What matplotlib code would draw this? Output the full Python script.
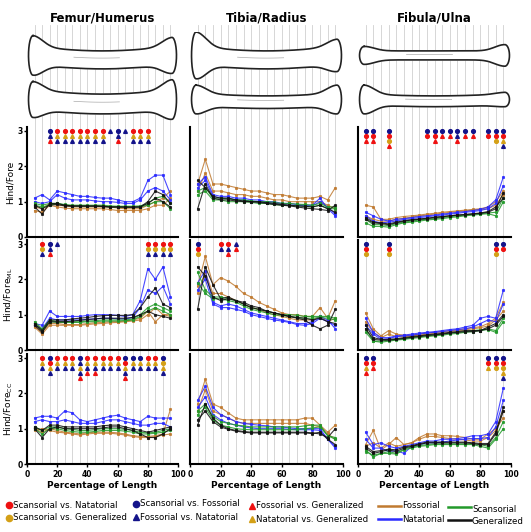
import matplotlib
matplotlib.use("Agg")
import matplotlib.pyplot as plt
import numpy as np

pct = [5,10,15,20,25,30,35,40,45,50,55,60,65,70,75,80,85,90,95]
groups = ["Fossorial", "Natatorial", "Scansorial", "Generalized"]
colors = {"Fossorial": "#C07A30", "Natatorial": "#2A2AFF", "Scansorial": "#22992A", "Generalized": "#111111"}
columns = ["Femur/Humerus", "Tibia/Radius", "Fibula/Ulna"]
row_labels = ["Hind/Fore", "Hind/Fore$_{\\mathrm{ML}}$", "Hind/Fore$_{\\mathrm{CC}}$"]

P1 = {
 "Fossorial": [[0.75,0.7,0.9,0.85,0.82,0.8,0.8,0.8,0.8,0.8,0.78,0.75,0.75,0.75,0.75,0.8,0.9,0.9,1.1],
               [0.85,0.8,0.95,0.9,0.88,0.85,0.85,0.85,0.85,0.85,0.85,0.82,0.8,0.8,0.8,0.9,1.0,1.1,1.3]],
 "Natatorial": [[1.1,1.2,1.05,1.3,1.25,1.2,1.15,1.15,1.12,1.1,1.1,1.05,1.0,1.0,1.1,1.6,1.75,1.75,1.2],
                [1.0,0.95,1.0,1.2,1.1,1.05,1.05,1.05,1.02,1.0,1.0,0.98,0.95,0.95,1.05,1.3,1.4,1.3,1.05]],
 "Scansorial": [[0.95,0.9,0.95,0.95,0.92,0.9,0.9,0.9,0.9,0.9,0.88,0.87,0.87,0.87,0.88,0.95,1.1,1.15,0.95],
                [0.9,0.85,0.9,0.95,0.9,0.88,0.88,0.88,0.88,0.88,0.85,0.85,0.85,0.85,0.85,0.9,1.0,1.0,0.8]],
 "Generalized": [[0.85,0.65,0.95,0.95,0.9,0.88,0.88,0.88,0.88,0.87,0.85,0.85,0.85,0.85,0.85,1.0,1.3,1.2,0.95],
                 [0.9,0.8,0.9,0.92,0.88,0.87,0.87,0.87,0.87,0.86,0.85,0.85,0.84,0.84,0.85,0.95,1.1,1.0,0.85]],
}
P2 = {
 "Fossorial": [[1.5,2.2,1.5,1.5,1.45,1.4,1.35,1.3,1.3,1.25,1.2,1.2,1.15,1.1,1.1,1.1,1.15,1.05,1.4],
               [1.3,1.8,1.3,1.3,1.25,1.2,1.2,1.15,1.15,1.1,1.05,1.05,1.0,1.0,1.0,1.0,1.0,0.9,0.8]],
 "Natatorial": [[1.5,1.7,1.2,1.15,1.15,1.1,1.1,1.05,1.05,1.0,1.0,0.95,0.95,0.92,0.9,0.9,1.1,0.8,0.6],
                [1.4,1.6,1.15,1.1,1.1,1.05,1.05,1.0,1.0,0.98,0.95,0.92,0.9,0.9,0.88,0.88,1.0,0.85,0.65]],
 "Scansorial": [[1.3,1.4,1.1,1.1,1.08,1.05,1.05,1.02,1.0,1.0,0.98,0.95,0.95,0.93,0.92,0.9,0.95,0.85,0.85],
                [1.2,1.3,1.05,1.05,1.0,1.0,1.0,0.98,0.95,0.95,0.92,0.9,0.9,0.88,0.87,0.85,0.9,0.8,0.8]],
 "Generalized": [[0.8,1.5,1.1,1.05,1.05,1.02,1.0,1.0,0.98,0.95,0.92,0.9,0.88,0.85,0.82,0.8,0.78,0.75,0.9],
                 [1.6,1.4,1.15,1.1,1.1,1.05,1.02,1.0,1.0,0.97,0.95,0.92,0.9,0.88,0.87,0.85,0.9,0.8,0.7]],
}
P3 = {
 "Fossorial": [[0.9,0.85,0.5,0.5,0.55,0.58,0.6,0.62,0.65,0.67,0.7,0.72,0.74,0.76,0.78,0.8,0.85,1.0,1.3],
               [0.6,0.5,0.45,0.45,0.5,0.53,0.56,0.6,0.62,0.65,0.67,0.7,0.72,0.74,0.76,0.78,0.8,0.9,1.2]],
 "Natatorial": [[0.7,0.6,0.5,0.45,0.5,0.52,0.55,0.58,0.6,0.62,0.65,0.67,0.7,0.72,0.75,0.78,0.85,1.05,1.7],
                [0.6,0.45,0.4,0.42,0.45,0.5,0.52,0.55,0.57,0.6,0.62,0.65,0.67,0.7,0.72,0.75,0.8,0.95,1.45]],
 "Scansorial": [[0.4,0.3,0.3,0.28,0.35,0.4,0.42,0.45,0.48,0.5,0.52,0.55,0.57,0.6,0.62,0.64,0.66,0.6,1.0],
                [0.5,0.35,0.35,0.32,0.38,0.42,0.45,0.48,0.5,0.52,0.55,0.57,0.6,0.62,0.64,0.66,0.68,0.7,1.1]],
 "Generalized": [[0.5,0.4,0.38,0.35,0.4,0.45,0.48,0.5,0.52,0.55,0.57,0.6,0.62,0.63,0.65,0.67,0.7,0.8,1.25],
                 [0.55,0.42,0.4,0.37,0.42,0.46,0.49,0.51,0.53,0.56,0.58,0.6,0.62,0.64,0.66,0.68,0.72,0.85,1.1]],
}
P4 = {
 "Fossorial": [[0.7,0.5,0.75,0.75,0.72,0.72,0.72,0.75,0.77,0.78,0.8,0.8,0.82,0.85,0.9,1.1,0.8,1.0,1.0],
               [0.65,0.45,0.7,0.7,0.7,0.7,0.7,0.72,0.74,0.75,0.77,0.78,0.8,0.82,0.85,1.0,1.2,1.0,0.95]],
 "Natatorial": [[0.75,0.7,1.1,0.95,0.95,0.95,0.95,0.98,1.0,1.0,1.0,0.98,0.95,1.0,1.4,2.3,2.0,2.35,1.5],
                [0.7,0.6,0.9,0.85,0.85,0.85,0.85,0.87,0.88,0.9,0.9,0.88,0.88,0.92,1.2,1.7,1.6,1.8,1.3]],
 "Scansorial": [[0.8,0.6,0.85,0.8,0.8,0.8,0.8,0.82,0.83,0.85,0.85,0.85,0.85,0.88,1.0,1.2,1.3,1.2,1.1],
                [0.75,0.55,0.8,0.78,0.78,0.78,0.78,0.8,0.8,0.82,0.82,0.82,0.83,0.85,0.95,1.1,1.2,1.1,1.0]],
 "Generalized": [[0.75,0.55,0.85,0.85,0.85,0.88,0.9,0.92,0.95,0.97,0.98,0.98,0.98,1.0,1.2,1.5,1.75,1.3,1.2],
                 [0.7,0.5,0.8,0.8,0.8,0.82,0.84,0.86,0.88,0.9,0.9,0.9,0.9,0.92,1.0,1.1,1.0,0.95,0.9]],
}
P5 = {
 "Fossorial": [[1.8,2.65,1.85,2.05,1.95,1.8,1.6,1.5,1.35,1.25,1.15,1.05,1.0,1.0,0.95,0.95,1.2,0.9,1.4],
               [1.6,2.2,1.6,1.6,1.5,1.4,1.3,1.2,1.15,1.05,1.0,0.95,0.9,0.85,0.85,0.85,0.95,0.8,0.9]],
 "Natatorial": [[1.9,2.25,1.35,1.25,1.3,1.25,1.15,1.05,1.0,0.95,0.9,0.85,0.8,0.75,0.75,0.8,0.95,0.85,0.6],
                [1.7,2.0,1.3,1.2,1.2,1.15,1.1,1.0,0.95,0.9,0.85,0.82,0.78,0.72,0.7,0.75,0.9,0.8,0.7]],
 "Scansorial": [[2.2,1.7,1.5,1.5,1.45,1.4,1.3,1.2,1.15,1.1,1.05,1.0,1.0,0.98,0.95,0.95,0.95,0.95,0.9],
                [1.9,1.6,1.45,1.45,1.4,1.35,1.25,1.15,1.1,1.05,1.0,0.98,0.95,0.92,0.9,0.9,0.92,0.9,0.85]],
 "Generalized": [[1.15,2.35,1.85,1.45,1.5,1.4,1.35,1.25,1.2,1.1,1.05,1.0,0.95,0.9,0.85,0.7,0.6,0.7,1.15],
                 [2.35,2.1,1.5,1.4,1.45,1.4,1.3,1.2,1.15,1.1,1.05,1.0,0.95,0.92,0.9,0.85,0.9,0.8,0.75]],
}
P6 = {
 "Fossorial": [[1.05,0.6,0.4,0.55,0.45,0.42,0.42,0.45,0.48,0.5,0.52,0.55,0.57,0.6,0.63,0.66,0.75,0.9,1.35],
               [0.8,0.5,0.35,0.45,0.38,0.38,0.4,0.42,0.45,0.47,0.5,0.52,0.55,0.57,0.6,0.63,0.68,0.85,1.1]],
 "Natatorial": [[0.9,0.5,0.35,0.35,0.4,0.42,0.45,0.48,0.5,0.52,0.55,0.58,0.6,0.65,0.7,0.9,0.95,0.9,1.7],
                [0.7,0.45,0.3,0.32,0.38,0.4,0.42,0.45,0.48,0.5,0.52,0.55,0.58,0.6,0.65,0.75,0.85,0.8,1.3]],
 "Scansorial": [[0.6,0.25,0.25,0.28,0.3,0.32,0.35,0.38,0.4,0.42,0.45,0.48,0.5,0.52,0.55,0.57,0.6,0.55,0.9],
                [0.5,0.25,0.22,0.25,0.28,0.3,0.33,0.35,0.38,0.4,0.42,0.45,0.47,0.5,0.52,0.55,0.58,0.5,0.8]],
 "Generalized": [[0.7,0.35,0.3,0.3,0.32,0.35,0.38,0.4,0.43,0.45,0.47,0.5,0.52,0.55,0.55,0.55,0.65,0.75,1.0],
                 [0.6,0.3,0.28,0.28,0.3,0.33,0.36,0.38,0.41,0.43,0.45,0.48,0.5,0.52,0.52,0.55,0.6,0.7,0.95]],
}
P7 = {
 "Fossorial": [[1.0,0.9,1.0,0.95,0.9,0.88,0.85,0.88,0.9,0.9,0.9,0.88,0.85,0.8,0.78,0.78,0.8,0.85,1.55],
               [0.95,1.0,0.95,0.9,0.88,0.85,0.82,0.85,0.87,0.87,0.87,0.85,0.82,0.78,0.75,0.75,0.77,0.82,0.85]],
 "Natatorial": [[1.3,1.35,1.35,1.3,1.5,1.45,1.25,1.2,1.25,1.3,1.35,1.38,1.3,1.25,1.2,1.35,1.3,1.3,1.3],
                [1.2,1.25,1.2,1.2,1.25,1.2,1.15,1.15,1.15,1.2,1.25,1.25,1.2,1.15,1.1,1.1,1.15,1.15,1.05]],
 "Scansorial": [[1.05,0.95,1.05,1.05,1.0,0.98,0.95,0.95,0.97,1.0,1.0,1.0,0.98,0.95,0.9,0.88,0.9,0.95,1.0],
                [1.0,0.85,1.0,1.0,0.95,0.92,0.9,0.9,0.92,0.95,0.95,0.95,0.93,0.9,0.85,0.85,0.87,0.9,0.95]],
 "Generalized": [[1.0,0.75,1.0,1.05,1.0,1.0,1.0,1.0,1.0,1.02,1.05,1.05,1.0,0.95,0.85,0.75,0.75,0.85,1.0],
                 [1.05,0.95,1.1,1.1,1.05,1.05,1.05,1.05,1.05,1.08,1.1,1.1,1.05,1.0,0.95,0.9,0.95,1.0,1.05]],
}
P8 = {
 "Fossorial": [[1.7,2.4,1.7,1.6,1.45,1.3,1.25,1.25,1.25,1.25,1.25,1.25,1.25,1.25,1.3,1.3,1.1,0.9,1.1],
               [1.5,2.1,1.5,1.4,1.3,1.2,1.15,1.15,1.15,1.15,1.15,1.15,1.15,1.15,1.15,1.1,1.05,0.85,0.7]],
 "Natatorial": [[1.8,2.2,1.6,1.4,1.3,1.2,1.15,1.12,1.1,1.08,1.05,1.05,1.02,1.0,1.0,1.0,1.0,0.7,0.45],
                [1.6,1.9,1.4,1.25,1.15,1.1,1.05,1.02,1.0,1.0,1.0,1.0,0.98,0.97,0.97,0.97,0.95,0.7,0.5]],
 "Scansorial": [[1.5,1.7,1.35,1.2,1.15,1.1,1.08,1.05,1.05,1.05,1.05,1.05,1.05,1.05,1.08,1.1,1.1,0.8,0.75],
                [1.4,1.6,1.25,1.1,1.05,1.0,0.98,0.97,0.97,0.97,0.97,0.97,0.97,0.97,1.0,1.02,1.05,0.8,0.7]],
 "Generalized": [[1.1,1.7,1.3,1.1,1.0,0.95,0.92,0.9,0.9,0.9,0.9,0.9,0.9,0.9,0.9,0.88,0.85,0.75,1.0],
                 [1.25,1.5,1.2,1.05,0.98,0.93,0.9,0.88,0.88,0.88,0.88,0.88,0.88,0.88,0.88,0.86,0.9,0.7,0.55]],
}
P9 = {
 "Fossorial": [[0.55,0.95,0.4,0.55,0.75,0.55,0.6,0.75,0.85,0.85,0.8,0.8,0.78,0.75,0.7,0.7,0.85,1.0,1.3],
               [0.5,0.6,0.45,0.6,0.5,0.55,0.6,0.7,0.78,0.78,0.75,0.72,0.7,0.68,0.65,0.65,0.75,0.95,1.5]],
 "Natatorial": [[0.9,0.55,0.6,0.5,0.45,0.5,0.55,0.6,0.65,0.65,0.7,0.7,0.72,0.75,0.8,0.8,0.85,1.2,2.15],
                [0.7,0.45,0.45,0.35,0.38,0.3,0.5,0.55,0.6,0.6,0.62,0.65,0.68,0.7,0.72,0.72,0.75,1.05,1.8]],
 "Scansorial": [[0.4,0.2,0.3,0.3,0.28,0.4,0.45,0.5,0.52,0.55,0.55,0.55,0.55,0.55,0.55,0.5,0.45,0.7,1.0],
                [0.35,0.25,0.3,0.35,0.3,0.42,0.48,0.52,0.55,0.57,0.57,0.57,0.57,0.57,0.57,0.55,0.5,0.75,1.2]],
 "Generalized": [[0.45,0.3,0.35,0.4,0.35,0.45,0.5,0.55,0.6,0.6,0.6,0.6,0.6,0.6,0.58,0.55,0.55,0.85,1.5],
                 [0.5,0.35,0.38,0.42,0.4,0.48,0.52,0.57,0.62,0.62,0.62,0.62,0.62,0.62,0.6,0.58,0.58,0.9,1.6]],
}
panels = [[P1, P2, P3], [P4, P5, P6], [P7, P8, P9]]

S1 = {15:["bc","bt","rt"],20:["rc","yt","bt"],25:["rc","yt","bt"],30:["rc","yt","bt"],35:["rc","yt","bt"],
      40:["rc","yt","bt"],45:["rc","yt","bt"],50:["rc","yt","bt"],55:["bt"],60:["bc","bt","rt"],65:["bt"],
      70:["rc","yt","bt"],75:["rc","yt","bt"],80:["rc","yt","bt"]}
S2 = {}
S3 = {5:["bc","rc","rt"],10:["bc","rc","rt"],20:["bc","rc","yc","rt"],45:["bc","rc"],50:["bc","rc","rt"],
      55:["bc","rt"],60:["bc","rt"],65:["bc","bt","rt"],70:["bc","rt"],75:["bc","rt"],85:["bc","rc"],
      90:["bc","rc","yc"],95:["bc","rc","yt","bt"]}
S4 = {10:["rc","yc","bt"],15:["bc","bt","rt"],20:["bt"],80:["rc","yc","bt"],85:["rc","yc","bt"],
      90:["rc","yc","bt"],95:["rc","yc","bt"]}
S5 = {5:["bc","rc","yc"],20:["rc","bt"],25:["rc","bt","rt"],30:["bt","rt"]}
S6 = {5:["bc","rc","yc"],20:["bc","rc","yc"],90:["bc","rc","yc"],95:["bc","rc"]}
S7 = {10:["rc","yt","bt"],15:["bc","rc","yt","bt"],20:["rc","yt","bt"],25:["rc","yt","bt"],30:["rc","yt","bt"],
      35:["bc","bt","yt","bt","rt"],40:["rc","yt","bt","rt"],45:["rc","yt","bt","rt"],50:["rc","yt","bt"],
      55:["rc","yt","bt"],60:["rc","yt","bt"],65:["bc","rc","yt","bt","rt"],70:["bc","yt","bt"],
      75:["bc","yt","bt"],80:["rc","yt","bt"],85:["rc","yt","bt"],90:["bc","yc","yt","bt"]}
S8 = {}
S9 = {5:["bc","rc","yt","rt"],10:["bc","rc","rt"],85:["bc","rc","yt"],90:["bc","rc","yc"],
      95:["bc","rc","yc","yt","bt"]}
sigs = [[S1, S2, S3], [S4, S5, S6], [S7, S8, S9]]

sym_color = {"r": "#EE1111", "y": "#D4A017", "b": "#13138A"}
sym_marker = {"c": "o", "t": "^"}

W, H = 531, 532
fig = plt.figure(figsize=(W/100, H/100), dpi=100)

def fa(x0, y0, x1, y1):
    return fig.add_axes([x0/W, 1 - y1/H, (x1-x0)/W, (y1-y0)/H])

col_x = [(27, 178), (190, 343), (358, 511)]
row_y = [(131, 237), (244, 350), (358, 464)]
ytop = 3.12

for (x0, x1) in col_x:
    bg = fa(x0, 25, x1, row_y[2][1])
    bg.set_xlim(0, 100); bg.set_ylim(0, 1)
    for p in pct:
        bg.axvline(p, color="#d0d0d0", lw=0.6, zorder=0)
    bg.axis("off")

# bone outline shapes: (shaft half-width, left knob, right knob, bow)
bone_shapes = [
    [(0.10, 0.22, 0.20, 0.05), (0.11, 0.20, 0.22, 0.05)],
    [(0.10, 0.26, 0.18, 0.05), (0.07, 0.16, 0.16, 0.03)],
    [(0.05, 0.10, 0.12, 0.0), (0.06, 0.16, 0.08, 0.02)],
]

def bone(ax, yc, shaft, kl, kr, bow):
    t = np.linspace(0, 1, 120)
    w = shaft + (kl - shaft)*np.exp(-(t/0.1)**2) + (kr - shaft)*np.exp(-((1-t)/0.1)**2)
    mid = yc - bow*np.sin(np.pi*t)
    xs = 4 + 92*t
    top = mid + w
    bot = mid - w
    a = np.linspace(-np.pi/2, np.pi/2, 30)
    rx = 3.0
    lx = xs[0] - rx*np.cos(a); ly = mid[0] + w[0]*np.sin(a)
    rxs = xs[-1] + rx*np.cos(a); rys = mid[-1] - w[-1]*np.sin(a)
    X = np.r_[xs, rxs, xs[::-1], lx]
    Y = np.r_[top, rys, bot[::-1], ly]
    ax.fill(X, Y, color="white", zorder=2)
    ax.plot(np.r_[X, X[0]], np.r_[Y, Y[0]], color="#222222", lw=1.2, zorder=3)
    ax.plot(xs[35:75], mid[35:75] + 0.02, color="#aaaaaa", lw=0.5, zorder=3)

for c, (x0, x1) in enumerate(col_x):
    ba = fa(x0, 32, x1, 122)
    ba.set_xlim(0, 100); ba.set_ylim(0, 1)
    ba.axis("off")
    ba.patch.set_alpha(0)
    for yc, shp in zip([0.74, 0.25], bone_shapes[c]):
        bone(ba, yc, *shp)
    fig.text((x0+x1)/2/W, 1-18/H, columns[c], ha="center", va="center", fontsize=8.5, fontweight="bold")

for r in range(3):
    for c in range(3):
        y0, y1 = row_y[r]
        x0, x1 = col_x[c]
        top_px = y1 - (y1-y0)*ytop/3
        ax = fa(x0, top_px, x1, y1)
        ax.set_xlim(0, 100); ax.set_ylim(0, ytop)
        ax.patch.set_alpha(0)
        for g in groups:
            for curve in panels[r][c][g]:
                ax.plot(pct, curve, color=colors[g], lw=0.8, marker="s", ms=1.2, alpha=0.85)
        for pos, codes in sigs[r][c].items():
            for k, code in enumerate(codes):
                ax.plot(pos, 3.0 - 0.14*k, marker=sym_marker[code[1]], color=sym_color[code[0]],
                        ms=2.7, ls="none", clip_on=False)
        for s in ["top", "right"]:
            ax.spines[s].set_visible(False)
        ax.spines["left"].set_linewidth(1.5)
        ax.spines["bottom"].set_linewidth(1.5)
        if c == 0:
            ax.set_yticks([0, 1, 2, 3])
            ax.set_yticklabels(["0", "1", "2", "3"], fontsize=5.5, fontweight="bold")
            ax.tick_params(axis="y", length=2, width=1, pad=1)
            ax.set_ylabel(row_labels[r], fontsize=6.5, labelpad=2)
        else:
            ax.set_yticks([])
        if r == 2:
            ax.set_xticks([0, 20, 40, 60, 80, 100])
            ax.set_xticklabels(["0", "20", "40", "60", "80", "100"], fontsize=5.5, fontweight="bold")
            ax.tick_params(axis="x", length=2, width=1, pad=2)
            ax.set_xlabel("Percentage of Length", fontsize=6.5, fontweight="bold", labelpad=2)
        else:
            ax.set_xticks([])

lg = fig.add_axes([0, 0, 1, 60/H])
lg.set_xlim(0, W); lg.set_ylim(60, 0); lg.axis("off")
items = [(9, 33, "rc", "Scansorial vs. Natatorial"), (9, 46, "yc", "Scansorial vs. Generalized"),
         (136, 32, "bc", "Scansorial vs. Fossorial"), (136, 45, "bt", "Fossorial vs. Natatorial"),
         (252, 34, "rt", "Fossorial vs. Generalized"), (252, 47, "yt", "Natatorial vs. Generalized")]
for x, y, code, txt in items:
    lg.plot(x, y, marker=sym_marker[code[1]], color=sym_color[code[0]], ms=4.5, ls="none")
    lg.text(x+4, y, txt, va="center", fontsize=6.2)
lines = [(378, 34, "Fossorial"), (378, 47, "Natatorial"), (448, 35, "Scansorial"), (448, 48, "Generalized")]
for x, y, g in lines:
    lg.plot([x, x+23], [y, y], color=colors[g], lw=1.8)
    lg.text(x+24, y + (0 if x < 400 else 2), g, va="center", fontsize=6.2)

fig.savefig("out.png", dpi=100)
